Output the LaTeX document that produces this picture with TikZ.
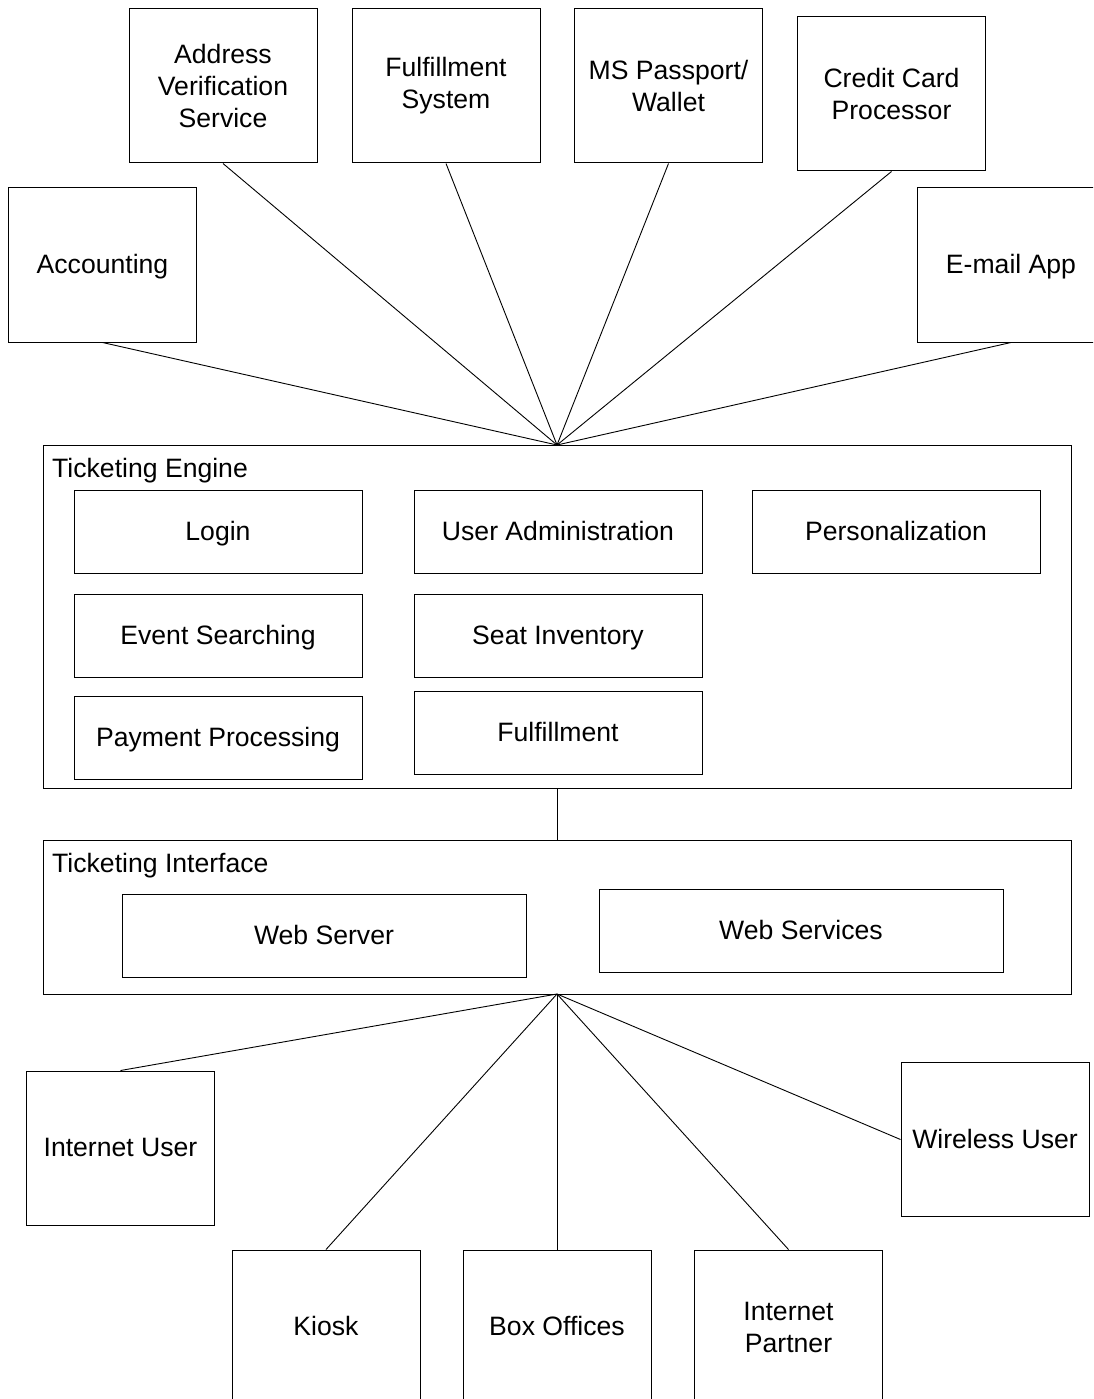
\documentclass[tikz,border=0pt]{standalone}
\usepackage{fontspec}
\setmainfont{Liberation Sans}
\begin{document}
\begin{tikzpicture}[x=1pt,y=-1pt,
  every node/.style={font=\fontsize{26.6}{32}\selectfont},
  box/.style={draw=black, line width=1pt, rectangle, inner sep=0pt, align=center},
  oneline/.style={text height=19pt, text depth=2pt},
  ext/.style={box, minimum width=188pt, minimum height=154pt},
  mod/.style={box, oneline, minimum width=288pt, minimum height=83pt},
  iface/.style={box, oneline, minimum width=404pt, minimum height=83pt},
  frame/.style={draw=black, line width=1pt},
  title/.style={anchor=west, inner sep=0pt},
  link/.style={draw=black, line width=0.9pt}]
\useasboundingbox (0,0) rectangle (1093,1399);
\clip (0,0) rectangle (1093,1399);

% external systems
\node[ext] (avs)  at (223,86)  {Address\\Verification\\Service};
\node[ext] (fs)   at (446,86)  {Fulfillment\\System};
\node[ext] (msp)  at (668.5,86) {MS Passport/\\Wallet};
\node[ext] (ccp)  at (891.5,94) {Credit Card\\Processor};
\node[ext, oneline] (acct) at (102.5,265) {Accounting};
\node[ext, oneline] (mail) at (1011,265) {E-mail App};

% ticketing engine
\draw[frame] (43,445) rectangle (1071,788);
\coordinate (teN) at (557,445);
\coordinate (teS) at (557,788);
\node[title] (tet) at (52,471) {Ticketing Engine};
\node[mod] (login) at (218,531.5) {Login};
\node[mod] (uadm)  at (558,531.5) {User Administration};
\node[mod] (pers)  at (896,531.5) {Personalization};
\node[mod] (evs)   at (218,635.5) {Event Searching};
\node[mod] (seat)  at (558,635.5) {Seat Inventory};
\node[mod] (pay)   at (218,737.5) {Payment Processing};
\node[mod] (ful)   at (558,732.5) {Fulfillment};

% ticketing interface
\draw[frame] (43,840) rectangle (1071,994);
\coordinate (tiN) at (557,840);
\coordinate (tiS) at (557,994);
\node[title] (tit) at (52,866) {Ticketing Interface};
\node[iface] (wsrv) at (324,935.5) {Web Server};
\node[iface] (wsvc) at (801,930.5) {Web Services};

% clients
\node[ext, oneline] (iu)   at (120.5,1148) {Internet User};
\node[ext, oneline] (wu)   at (995,1139.5) {Wireless User};
\node[ext, oneline] (kio)  at (326,1327) {Kiosk};
\node[ext, oneline] (box)  at (557,1327) {Box Offices};
\node[ext] (ip)   at (788.5,1327) {Internet\\Partner};

% connectors
\foreach \n in {acct,avs,fs,msp,ccp,mail}
  \draw[link] (\n.south) -- (teN);
\draw[link] (teS) -- (tiN);
\draw[link] (tiS) -- (iu.north);
\draw[link] (tiS) -- (kio.north);
\draw[link] (tiS) -- (box.north);
\draw[link] (tiS) -- (ip.north);
\draw[link] (tiS) -- (wu.west);
\end{tikzpicture}
\end{document}
